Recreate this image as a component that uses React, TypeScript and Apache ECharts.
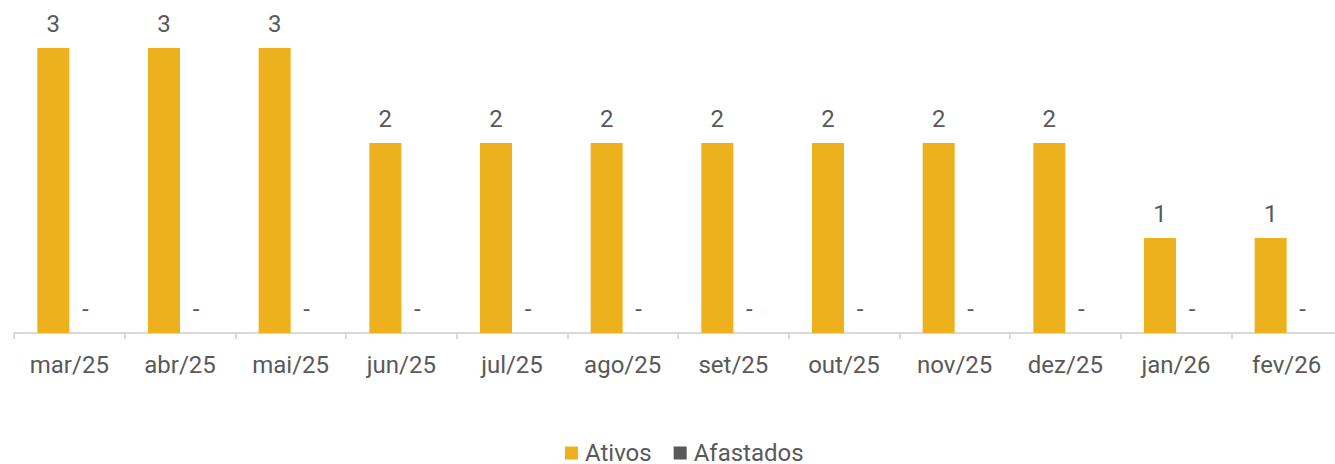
import React, { useEffect, useRef } from "react";
import * as echarts from "echarts";

const categories = ["mar/25", "abr/25", "mai/25", "jun/25", "jul/25", "ago/25", "set/25", "out/25", "nov/25", "dez/25", "jan/26", "fev/26"];
const ativos = [3, 3, 3, 2, 2, 2, 2, 2, 2, 2, 1, 1];
const afastados = [0, 0, 0, 0, 0, 0, 0, 0, 0, 0, 0, 0];

const TEXT = "#595959";
const labelCfg = {
  show: true,
  position: "top" as const,
  distance: 12,
  color: TEXT,
  fontSize: 24,
  fontFamily: "Roboto",
  formatter: (p: any) => (p.value === 0 ? "-" : String(p.value)),
};

export default function App() {
  const ref = useRef<HTMLDivElement>(null);
  useEffect(() => {
    document.body.style.margin = "0";
    const chart = echarts.init(ref.current!, null, { renderer: "svg" });
    chart.setOption({
      animation: false,
      textStyle: { fontFamily: "Roboto" },
      grid: { left: 14, right: 0, top: 48, height: 285 },
      legend: {
        top: 436,
        left: 560,
        itemWidth: 13,
        itemHeight: 13,
        itemGap: 22,
        icon: "rect",
        textStyle: { color: TEXT, fontSize: 24, fontFamily: "Roboto", lineHeight: 24, padding: [0, 0, 0, 2] },
        data: ["Ativos", "Afastados"],
      },
      xAxis: {
        type: "category",
        data: categories,
        boundaryGap: true,
        axisLine: { lineStyle: { color: "#D9D9D9", width: 2 } },
        axisTick: { show: true, length: 6, lineStyle: { color: "#D9D9D9", width: 2 } },
        axisLabel: { color: TEXT, fontSize: 24, fontFamily: "Roboto", margin: 20, interval: 0 },
      },
      yAxis: {
        type: "value",
        min: 0,
        max: 3,
        show: false,
        splitLine: { show: false },
      },
      series: [
        {
          name: "Ativos",
          type: "bar",
          data: ativos,
          barWidth: 32,
          barGap: "0%",
          itemStyle: { color: "#EDB11E" },
          label: labelCfg,
        },
        {
          name: "Afastados",
          type: "bar",
          data: afastados,
          barWidth: 32,
          itemStyle: { color: "#595959" },
          label: labelCfg,
        },
      ],
    });
    return () => chart.dispose();
  }, []);
  return (
    <div style={{ width: 1335, height: 464, overflow: "hidden", position: "relative" }}>
      <div ref={ref} style={{ width: 1342, height: 464 }} />
    </div>
  );
}
